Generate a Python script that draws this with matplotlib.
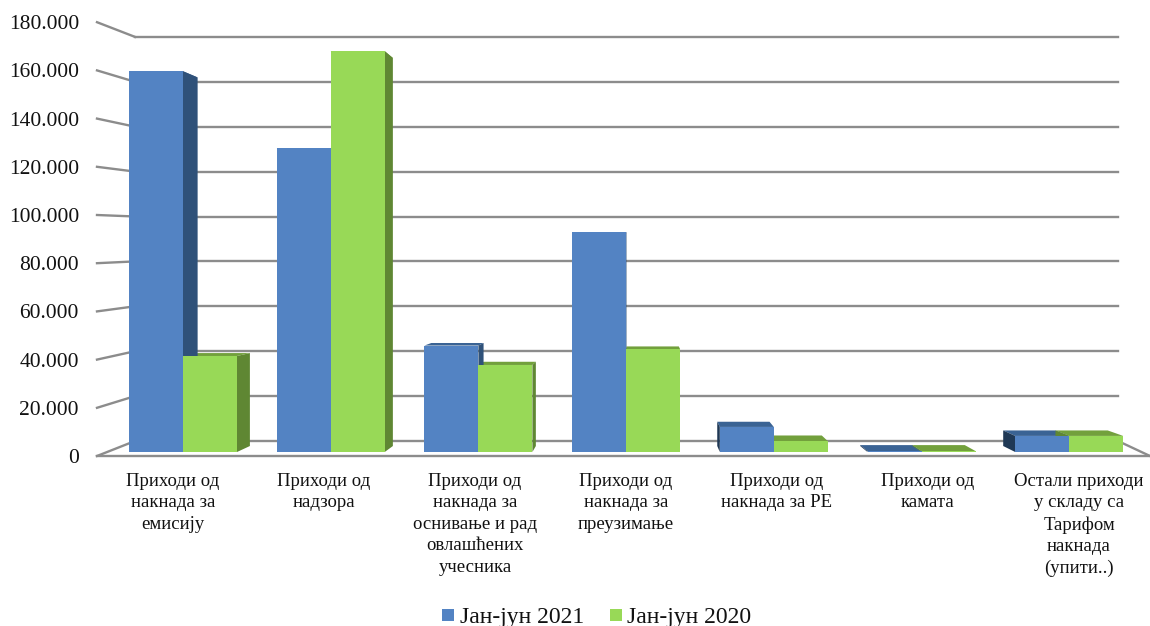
import matplotlib
matplotlib.use("Agg")
import matplotlib.pyplot as plt
from matplotlib.patches import Polygon, Rectangle

plt.rcParams['font.family'] = ['Liberation Serif', 'DejaVu Serif']

categorias = ["Приходи од\nнакнада за\nемисију",
              "Приходи од\nнадзора",
              "Приходи од\nнакнада за\nоснивање и рад\nовлашћених\nучесника",
              "Приходи од\nнакнада за\nпреузимање",
              "Приходи од\nнакнада за РЕ",
              "Приходи од\nкамата",
              "Остали приходи\nу складу са\nТарифом\nнакнада\n(упити..)"]
jan_jun_2021 = [161000, 128500, 45000, 93000, 10600, 400, 6800]
jan_jun_2020 = [40600, 169500, 36800, 43500, 4600, 400, 6800]
ticks = [0, 20000, 40000, 60000, 80000, 100000, 120000, 140000, 160000, 180000]
tick_labels = ["0", "20.000", "40.000", "60.000", "80.000", "100.000",
               "120.000", "140.000", "160.000", "180.000"]
series = ["Јан-јун 2021", "Јан-јун 2020"]

W, H = 1150, 626
fig = plt.figure(figsize=(W / 100, H / 100), dpi=100)
ax = fig.add_axes([0, 0, 1, 1])
ax.axis('off')

# the axes fill the figure, x in category units and y in value units
px_x0, px_cat = 183, 147.7
px_y0, px_val = 452, 47.3 / 20000
ax.set_xlim((0 - px_x0) / px_cat, (W - px_x0) / px_cat)
ax.set_ylim((px_y0 - H) / px_val, px_y0 / px_val)

# vanishing point of the 3d box, in data units
vp_x = (640 - px_x0) / px_cat
vp_y = (px_y0 - 265) / px_val
ancho = 54 / px_cat
prof = 0.032


def atras(x, y, f=prof):
    return x + (vp_x - x) * f, y + (vp_y - y) * f


def ycoord(pix):
    return (px_y0 - pix) / px_val


def xcoord(pix):
    return (pix - px_x0) / px_cat


# walls and floor
gris = '#8c8c8c'
x_izq, x_izq2 = xcoord(97), xcoord(135)
x_der, x_der2 = xcoord(1150), xcoord(1118)
for i, t in enumerate(ticks):
    y_front = ycoord(456 - i * 48.2)
    y_back = ycoord(441 - i * 44.9)
    ax.plot([x_izq, x_izq2], [y_front, y_back], color=gris, lw=1.7, zorder=1)
    ax.plot([x_izq2, x_der2], [y_back, y_back], color=gris, lw=1.7, zorder=1)
    ax.text(xcoord(79), ycoord(456 - i * 48.2 + 2.5), tick_labels[i], ha='right', va='center',
            fontsize=15.5, color='#111111')
ax.plot([x_izq, x_der], [ycoord(456), ycoord(456)], color=gris, lw=1.7, zorder=1)
ax.plot([x_der2, x_der], [ycoord(441), ycoord(456)], color=gris, lw=1.7, zorder=1)

estilos = [('#5383c3', '#3a6394', '#2f5179', '#1f3855'), ('#98d957', '#72a03c', '#5f8733', '#5f8733')]
valores = [jan_jun_2021, jan_jun_2020]

# far bars first so the nearer ones cover them
orden = sorted(range(len(categorias)), key=lambda c: -abs(c - vp_x))
for c in orden:
    sers = [0, 1] if c * 1.0 > vp_x else [1, 0]
    for s in sers:
        v = valores[s][c]
        x0 = c + (s - 1) * ancho
        x1 = x0 + ancho
        cara, techo, lado, lado_izq = estilos[s]
        z = 3
        # top
        ax.add_patch(Polygon([(x0, v), (x1, v), atras(x1, v), atras(x0, v)],
                             facecolor=techo, edgecolor='none', zorder=z))
        # side, the one facing the middle of the chart
        xl = x1 if x1 < vp_x else x0
        if not (x0 < vp_x < x1):
            ax.add_patch(Polygon([(xl, 0), (xl, v), atras(xl, v), atras(xl, 0)],
                                 facecolor=lado if x1 < vp_x else lado_izq,
                                 edgecolor='none', zorder=z))
        ax.bar(x0, v, width=ancho, align='edge', color=cara, zorder=z + 0.5)

for i, cat in enumerate(categorias):
    ax.text(xcoord(173 + 151 * i), ycoord(473), cat, ha='center', va='top', fontsize=13.5,
            linespacing=1.34, color='#111111')

# legend
y_ley = ycoord(623)
ax.add_patch(Rectangle((xcoord(442), ycoord(621)), 12 / px_cat, 12 / px_val,
                       facecolor=estilos[0][0], edgecolor='none'))
ax.text(xcoord(460), y_ley, series[0], ha='left', va='baseline', fontsize=17, color='#111111')
ax.add_patch(Rectangle((xcoord(610), ycoord(621)), 12 / px_cat, 12 / px_val,
                       facecolor=estilos[1][0], edgecolor='none'))
ax.text(xcoord(627), y_ley, series[1], ha='left', va='baseline', fontsize=17, color='#111111')

fig.savefig('out.png', dpi=100)
